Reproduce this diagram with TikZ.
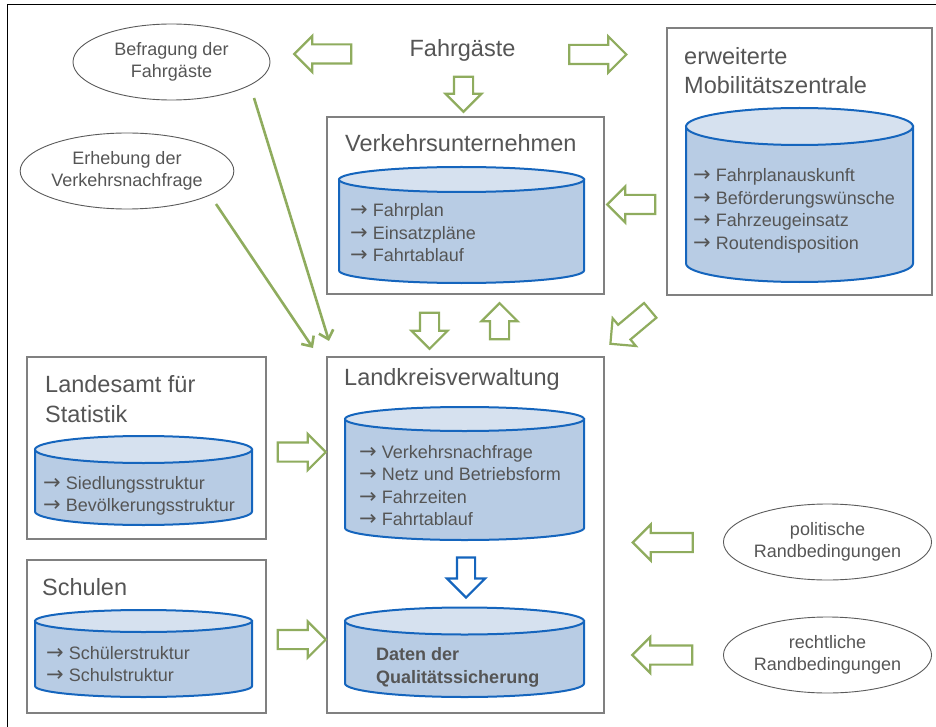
\documentclass[tikz,border=0pt]{standalone}
\usepackage{fontspec}
\setmainfont{Liberation Sans}
\newfontfamily\arrowfont{DejaVu Sans}
\newcommand\itemarrow{\smash{\arrowfont\fontsize{21}{21}\selectfont →}}
\usetikzlibrary{shapes.geometric,shapes.arrows,arrows.meta,positioning}

\definecolor{grn}{RGB}{143,172,94}
\definecolor{cylblue}{RGB}{21,101,189}
\definecolor{cylbody}{RGB}{184,204,228}
\definecolor{cyltop}{RGB}{214,225,239}
\definecolor{boxgray}{RGB}{128,128,128}
\definecolor{txtgray}{RGB}{85,85,85}
\definecolor{ellgray}{RGB}{90,90,90}

\begin{document}
\begin{tikzpicture}[x=1pt,y=-1pt,
    box/.style={draw=boxgray, line width=1.2pt, inner sep=0pt},
    title/.style={text=txtgray, font=\fontsize{23.5}{29.5}\selectfont, align=left, inner sep=0pt},
    item/.style={text=txtgray, font=\fontsize{18}{22.5}\selectfont, anchor=west, align=left, inner sep=0pt},
    source/.style={ellipse, draw=ellgray, line width=0.9pt, minimum width=197pt, minimum height=76pt,
        inner sep=0pt, text=txtgray, font=\fontsize{18}{22.5}\selectfont, align=center},
    store/.style={fill=#1, draw=cylblue, line width=2pt},
    flow/.style={single arrow, draw=grn, line width=2.2pt, fill=white, minimum height=57pt,
        inner ysep=8.5pt, inner xsep=0pt, single arrow head extend=8.5pt},
    feed/.style={draw=grn, line width=2.6pt, -{Straight Barb[length=8pt,width=15pt]}}]

    \useasboundingbox (0,0) rectangle (936,727);
    \draw[line width=1pt] (936,5) -- (7,5) -- (7,727);

    % boxes
    \node[box, minimum width=277pt, minimum height=177pt] (vu) at (465.5,205.5) {};
    \node[box, minimum width=265pt, minimum height=267pt] (mz) at (799.5,161.5) {};
    \node[box, minimum width=277pt, minimum height=356pt] (lk) at (465.5,535) {};
    \node[box, minimum width=239pt, minimum height=182pt] (la) at (146.5,448) {};
    \node[box, minimum width=239pt, minimum height=153pt] (sc) at (146.5,636.5) {};

    \node[title, anchor=base] (fg) at (462.5,57) {Fahrgäste};
    \node[title, anchor=base west] (vut) at (345,152) {Verkehrsunternehmen};
    \node[title, anchor=west] (mzt) at (684,70.5) {erweiterte\\Mobilitätszentrale};
    \node[title, anchor=base west] (lkt) at (344,385) {Landkreisverwaltung};
    \node[title, anchor=west] (lat) at (45,399) {Landesamt für\\Statistik};
    \node[title, anchor=base west] (sct) at (42,595) {Schulen};

    % data stores: centre x / half width / top y / bottom y / end radius
    \foreach \cx/\hw/\yt/\yb/\r in {461.5/122.5/179.5/270.5/12.5, 799.5/113.5/126.5/263.5/18.5,
        464.5/119.5/419/528/12, 464.5/119.5/621/683.5/13.5, 143.5/108.5/449.5/511.5/13.5,
        143.5/108.5/621/686/11} {
        \filldraw[store=cylbody] (\cx-\hw,\yt) -- (\cx-\hw,\yb)
            arc[start angle=180, end angle=0, x radius=\hw, y radius=\r] -- (\cx+\hw,\yt) -- cycle;
        \filldraw[store=cyltop] (\cx,\yt) ellipse[x radius=\hw, y radius=\r];
    }

    \node[item] (vui) at (350,233) {\itemarrow{} Fahrplan\\\itemarrow{} Einsatzpläne\\\itemarrow{} Fahrtablauf};
    \node[item] (mzi) at (693,211) {\itemarrow{} Fahrplanauskunft\\\itemarrow{} Beförderungswünsche\\\itemarrow{} Fahrzeugeinsatz\\\itemarrow{} Routendisposition};
    \node[item] (lki) at (359,485.5) {\itemarrow{} Verkehrsnachfrage\\\itemarrow{} Netz und Betriebsform\\\itemarrow{} Fahrzeiten\\\itemarrow{} Fahrtablauf};
    \node[item, font=\bfseries\fontsize{18}{22.5}\selectfont] (qsi) at (376,667.5) {Daten der\\Qualitätssicherung};
    \node[item] (lai) at (43,496) {\itemarrow{} Siedlungsstruktur\\\itemarrow{} Bevölkerungsstruktur};
    \node[item] (sci) at (46,664) {\itemarrow{} Schülerstruktur\\\itemarrow{} Schulstruktur};

    % outside sources
    \node[source] (befr) at (171.5,62) {Befragung der\\Fahrgäste};
    \node[source] (erheb) at (127,171) {Erhebung der\\Verkehrsnachfrage};
    \node[source] (polit) at (827.5,542) {politische\\Randbedingungen};
    \node[source] (recht) at (827.5,655) {rechtliche\\Randbedingungen};

    % block arrows
    \node[flow, rotate=180] (a1) at (327.5,54) {};
    \node[flow] (a2) at (593,54.5) {};
    \node[flow, rotate=-90, minimum height=35pt] (a3) at (463.5,89.5) {};
    \node[flow, rotate=180, minimum height=48pt] (a4) at (636,204.5) {};
    \node[flow, rotate=-90, minimum height=36pt] (a5) at (429.5,326) {};
    \node[flow, rotate=90, minimum height=36pt] (a6) at (499.5,326) {};
    \node[flow, rotate=220, minimum height=52pt] (a7) at (634,324) {};
    \node[flow, minimum height=48pt] (a8) at (297,452) {};
    \node[flow, minimum height=48pt] (a9) at (297,639.5) {};
    \node[flow, rotate=180, minimum height=60pt] (a10) at (667.5,542.5) {};
    \node[flow, rotate=180, minimum height=60pt] (a11) at (667,655) {};
    \node[flow, draw=cylblue, rotate=-90, minimum height=40pt, inner ysep=8pt, single arrow head extend=10pt] (a12) at (466,573) {};

    % survey lines
    \coordinate (f1) at (254,98);
    \coordinate (f2) at (216,204);
    \coordinate (l1) at (329,341);
    \coordinate (l2) at (313,348);
    \draw[feed] (f1) -- (l1);
    \draw[feed] (f2) -- (l2);
\end{tikzpicture}
\end{document}
